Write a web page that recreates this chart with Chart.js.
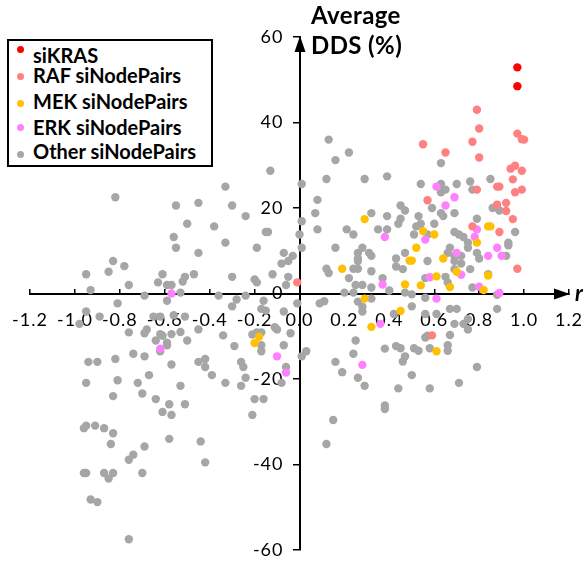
<!DOCTYPE html>
<html>
<head>
<meta charset="utf-8">
<script src="https://cdn.jsdelivr.net/npm/chart.js@4/dist/chart.umd.min.js"></script>
<style>
  html, body { margin: 0; padding: 0; background: #fff; }
  #wrap { position: relative; width: 586px; height: 565px; overflow: hidden; font-family: Lato, "Open Sans", sans-serif; }
  canvas { position: absolute; left: 0; top: 0; }
  .lg { position: absolute; left: 7px; top: 39px; width: 206px; height: 128px; border: 2px solid #000; box-sizing: border-box; background: #fff; }
  .it { position: absolute; left: 24px; font-weight: bold; font-size: 20px; line-height: 20px; white-space: nowrap; color: #000; }
  .dot { position: absolute; width: 7px; height: 7px; border-radius: 50%; }
  .ttl { position: absolute; left: 311px; top: 0px; font-weight: bold; font-size: 24px; letter-spacing: 0.4px; line-height: 30px; color: #000; white-space: nowrap; }
  .rl { position: absolute; left: 575px; top: 280px; font-weight: bold; font-style: italic; font-size: 22px; line-height: 26px; color: #000; }
</style>
</head>
<body>
<div id="wrap">
  <canvas id="c" width="586" height="565"></canvas>
  <div class="lg" id="lg"></div>
  <div class="ttl">Average<br>DDS (%)</div>
  <div class="rl">r</div>
</div>
<script>
// ---------- data (r, Average DDS %) ----------
const axisTitleY = ["Average", "DDS (%)"];
const axisTitleX = "r";
const seriesNames = ["siKRAS", "RAF siNodePairs", "MEK siNodePairs", "ERK siNodePairs", "Other siNodePairs"];
const seriesColors = ["#FF0000", "#FF8080", "#FFC000", "#FF80FF", "#A6A6A6"];
const xTicks = [-1.2, -1.0, -0.8, -0.6, -0.4, -0.2, 0.0, 0.2, 0.4, 0.6, 0.8, 1.0, 1.2];
const yTicks = [-60, -40, -20, 0, 20, 40, 60];

const krasPoints = [[0.97,52.9],[0.97,48.5]];

const rafPoints = [
  [0.79,43.0],[0.80,38.6],[0.77,35.5],[0.55,34.9],[0.65,33.0],[0.80,31.8],[0.97,37.4],[0.99,36.1],
  [1.00,36.0],[0.96,29.9],[0.94,29.2],[0.99,28.7],[0.95,26.7],[0.89,25.0],[0.88,25.0],[0.96,23.7],
  [0.99,24.3],[0.79,24.3],[0.57,21.8],[0.92,21.2],[0.88,20.8],[0.92,19.3],[0.95,17.4],[0.77,15.7],
  [0.89,14.4],[0.97,5.8],[0.59,-9.8],[-0.01,2.6]
];

const mekPoints = [
  [0.29,17.4],[0.19,5.8],[0.55,14.6],[0.60,13.8],[0.84,15.7],[0.85,15.7],[0.52,10.7],[0.79,11.9],
  [0.49,7.7],[0.50,7.7],[0.64,8.2],[0.61,4.0],[0.70,5.1],[0.84,4.2],[0.29,-1.2],[0.32,-7.8],
  [-0.20,-11.6],[-0.18,-10.1],[0.47,2.1],[0.54,1.9],[0.67,1.5],[0.45,-4.1],[0.61,-13.5],[0.82,0.8]
];

const erkPoints = [
  [0.38,13.2],[0.61,25.0],[0.69,22.5],[0.65,20.6],[0.79,15.0],[0.56,12.6],[0.78,13.2],[0.88,10.7],
  [0.90,8.8],[0.84,8.8],[0.70,9.5],[0.72,4.4],[0.58,3.8],[0.61,-1.2],[0.80,1.6],[0.89,0.1],
  [0.37,2.1],[0.36,-7.1],[-0.10,-14.7],[-0.06,-18.5],[0.28,-16.7],[-0.57,0.0],[-0.62,-12.9]
];

const otherPoints = [
  [-0.82,22.5],[-0.55,20.6],[-0.45,21.2],[-0.50,16.3],[-0.56,13.2],[-0.55,10.7],[-0.45,9.5],[-0.83,7.6],
  [-0.85,5.1],[-0.78,6.4],[-0.95,4.5],[-0.61,4.5],[-0.51,3.9],[-0.47,4.5],
  [0.22,33.0],[0.16,31.2],[0.13,36.0],[-0.13,28.7],[0.12,26.8],[0.29,26.8],[0.39,27.4],[0.01,25.6],
  [-0.33,25.0],[0.08,21.9],[-0.30,20.6],[0.07,18.8],[0.32,18.8],[0.39,18.1],[-0.24,18.1],[0.01,16.9],
  [-0.38,15.7],[0.08,15.0],[0.21,15.0],[0.24,13.8],[0.35,15.0],[0.39,15.0],[-0.15,14.4],[-0.14,14.4],
  [0.00,13.8],[-0.33,11.9],[-0.19,10.7],[0.01,10.7],[0.16,10.7],[0.28,10.7],[-0.07,9.5],[-0.03,8.8],
  [0.26,9.5],[0.31,9.5],[0.32,8.8],[0.26,8.2],[0.26,7.6],[-0.05,7.6],[-0.08,7.0],[0.12,5.8],
  [0.13,4.8],[0.24,5.8],[0.26,5.8],[0.32,5.2],[-0.12,4.5],[-0.05,3.9],[-0.30,3.9],[-0.20,3.3],
  [0.22,3.6],[0.37,3.6],
  [0.63,30.5],[0.54,25.6],[0.63,25.6],[0.70,25.6],[0.76,26.2],[0.77,24.3],[0.85,26.8],[0.63,23.7],
  [0.65,24.3],[0.45,20.6],[0.47,19.4],[0.59,20.0],[0.63,18.8],[0.64,18.1],[0.69,18.8],[0.53,18.1],
  [0.45,17.5],[0.44,16.3],[0.54,16.3],[0.52,15.7],[0.60,16.3],[0.79,17.5],[0.86,20.0],[0.89,19.4],
  [0.96,14.4],[0.69,14.4],[0.71,13.8],[0.73,13.2],[0.51,13.8],[0.57,13.8],[0.75,11.9],[0.75,10.7],
  [0.67,10.7],[0.93,11.9],[0.93,11.3],[0.47,9.5],[0.57,7.6],[0.66,9.5],[0.69,8.8],[0.72,8.8],
  [0.79,9.5],[0.80,8.2],[0.92,8.8],[0.43,8.2],[0.43,6.3],[0.46,5.7],[0.69,7.6],[0.72,7.0],
  [0.69,5.7],[0.76,5.7],[0.84,4.5],[0.56,3.6],[0.65,3.9],
  [0.40,0.7],[0.47,0.2],[0.50,-0.2],[0.56,-1.0],[0.50,-3.0],[0.42,-4.8],[0.56,-4.8],[0.61,-4.8],
  [0.67,-3.6],[0.70,-3.6],[0.69,-7.1],[0.75,-6.0],[0.73,-7.1],[0.75,-8.4],[0.88,-3.6],[0.88,-0.3],
  [0.77,1.4],[0.66,2.6],[0.56,-10.3],[0.57,-9.9],[0.67,-9.7],[0.43,-12.3],[0.45,-12.8],[0.51,-12.8],
  [0.53,-13.4],[0.58,-12.8],[0.66,-12.1],[0.66,-13.4],[0.47,-14.7],[0.46,-15.9],[0.79,-17.2],[0.50,-19.1],
  [0.71,-20.9],[0.44,-22.2],[0.58,-22.2],
  [-0.36,-0.5],[-0.24,-0.5],[-0.28,-1.4],[-0.30,-3.0],[-0.16,-1.7],[-0.17,-3.6],[-0.15,-4.0],[-0.07,-4.2],
  [-0.01,-2.3],[0.09,-2.3],[0.11,-1.8],[-0.06,2.0],[-0.19,2.6],[0.20,0.2],[0.24,0.2],[0.26,-1.9],
  [0.28,-3.1],[0.28,-4.2],[0.32,-1.2],[0.25,2.0],[0.28,2.0],[0.32,1.4],[-0.34,-9.8],[-0.21,-9.6],
  [-0.19,-9.1],[-0.17,-9.1],[-0.11,-7.9],[-0.10,-8.4],[-0.04,-9.3],[-0.29,-12.3],[-0.17,-12.1],[-0.17,-13.5],
  [-0.07,-12.1],[-0.26,-16.0],[-0.25,-17.2],[0.01,-14.7],[0.03,-13.5],[0.16,-16.0],[0.19,-18.4],[0.25,-11.0],
  [0.24,-14.1],[0.38,-12.9],[0.26,-19.7],[0.29,-21.6],[-0.06,-17.2],[-0.08,-20.9],[-0.24,-19.7],[-0.26,-21.6],
  [-0.33,-20.9],[-0.39,-19.1],[-0.20,-24.7],[-0.16,-24.7],[0.38,-26.2],
  [-0.76,2.0],[-0.93,0.8],[-0.81,-2.3],[-0.69,-0.5],[-0.63,2.6],[-0.59,2.0],[-0.57,2.0],[-0.52,2.8],
  [-0.53,0.2],[-0.59,-1.7],[-0.95,-4.2],[-0.89,-5.4],[-0.98,-7.1],[-0.65,-5.4],[-0.62,-5.4],[-0.56,-5.1],
  [-0.51,-5.4],[-0.45,-8.4],[-0.68,-8.4],[-0.69,-9.3],[-0.76,-9.1],[-0.62,-9.5],[-0.57,-9.5],[-0.53,-9.0],
  [-0.61,-9.9],[-0.64,-11.0],[-0.59,-11.5],[-0.59,-12.1],[-0.50,-11.0],[-0.62,-13.5],[-0.74,-14.1],[-0.69,-14.7],
  [-0.94,-16.0],[-0.90,-16.0],[-0.82,-15.3],[-0.57,-16.6],[-0.45,-16.0],[-0.42,-15.3],[-0.42,-17.2],[-0.95,-20.9],
  [-0.81,-20.3],[-0.72,-20.9],[-0.67,-19.1],[-0.53,-21.6],[-0.83,-24.0],[-0.70,-23.4],[-0.64,-24.7],[-0.58,-25.9],
  [-0.51,-25.9],
  [-0.61,-27.7],[-0.57,-28.4],[-0.96,-31.5],[-0.95,-30.9],[-0.91,-30.9],[-0.87,-31.5],[-0.83,-32.7],[-0.84,-35.2],
  [-0.58,-34.0],[-0.44,-34.6],[-0.69,-35.8],[-0.74,-37.7],[-0.76,-38.9],[-0.42,-39.5],[-0.96,-42.0],[-0.95,-42.0],
  [-0.87,-42.0],[-0.83,-42.0],[-0.85,-43.3],[-0.70,-42.0],[-0.93,-48.2],[-0.90,-48.8],[-0.76,-57.5],
  [-0.21,-28.4],[0.15,-29.6],[0.12,-35.2],[0.38,-27.0]
];

const groups = [krasPoints, rafPoints, mekPoints, erkPoints, otherPoints];

// ---------- legend (HTML, real text) ----------
const lg = document.getElementById('lg');
const textTops = [4, 24, 50, 76, 100];
const dotTops = [4.5, 32, 58.5, 83, 110];
seriesNames.forEach((n, i) => {
  const d = document.createElement('div');
  d.className = 'dot';
  d.style.left = '8px';
  d.style.top = dotTops[i] + 'px';
  d.style.background = seriesColors[i];
  lg.appendChild(d);
  const t = document.createElement('div');
  t.className = 'it';
  t.style.top = textTops[i] + 'px';
  t.textContent = n;
  lg.appendChild(t);
});

// ---------- text spacing + arrows on axes ----------
const spacingPlugin = {
  id: 'spacing',
  beforeDraw(chart) { chart.ctx.letterSpacing = '1px'; },
  afterDraw(chart) { chart.ctx.letterSpacing = '0px'; }
};

const arrowPlugin = {
  id: 'arrows',
  afterDraw(chart) {
    const xs = chart.scales.x, ys = chart.scales.y;
    const ctx = chart.ctx;
    const ax = Math.round(xs.getPixelForValue(0));
    const ay = Math.round(ys.getPixelForValue(0));
    const topTip = ys.getPixelForValue(yTicks[yTicks.length - 1]);
    const rightTip = xs.getPixelForValue(xTicks[xTicks.length - 1]);
    ctx.save();
    ctx.fillStyle = '#000';
    ctx.beginPath();
    ctx.moveTo(ax, topTip - 1);
    ctx.lineTo(ax - 5.5, topTip + 15);
    ctx.lineTo(ax + 5.5, topTip + 15);
    ctx.closePath();
    ctx.fill();
    ctx.beginPath();
    ctx.moveTo(rightTip + 1, ay);
    ctx.lineTo(rightTip - 15, ay - 5.5);
    ctx.lineTo(rightTip - 15, ay + 5.5);
    ctx.closePath();
    ctx.fill();
    ctx.restore();
  }
};

const noSidePadding = s => { s.paddingLeft = 0; s.paddingRight = 0; s.paddingTop = 0; s.paddingBottom = 0; };
const toData = pts => pts.map(p => ({ x: p[0], y: p[1] }));

new Chart(document.getElementById('c'), {
  type: 'scatter',
  data: {
    datasets: groups.map((g, i) => ({
      label: seriesNames[i],
      data: toData(g),
      backgroundColor: seriesColors[i],
      borderWidth: 0,
      pointRadius: 4.2,
      pointHoverRadius: 4.2
    }))
  },
  options: {
    responsive: false,
    devicePixelRatio: 1,
    animation: false,
    events: [],
    layout: { padding: { left: 30, right: 17, top: 37, bottom: 15 } },
    plugins: { legend: { display: false }, tooltip: { enabled: false } },
    scales: {
      x: {
        type: 'linear',
        position: 'center',
        min: xTicks[0],
        max: xTicks[xTicks.length - 1],
        afterBuildTicks: s => { s.ticks = xTicks.map(v => ({ value: v })); },
        afterFit: noSidePadding,
        grid: { drawOnChartArea: false, drawTicks: true, tickLength: -6, color: '#000', lineWidth: 1.5 },
        border: { display: true, color: '#000', width: 2 },
        ticks: {
          padding: 22,
          color: '#000',
          font: { family: 'Lato', size: 18 },
          maxRotation: 0,
          autoSkip: false,
          callback: v => (Math.abs(v) < 1e-9 ? 0 : v).toFixed(1)
        }
      },
      y: {
        type: 'linear',
        position: 'center',
        min: yTicks[0],
        max: yTicks[yTicks.length - 1],
        afterBuildTicks: s => { s.ticks = yTicks.map(v => ({ value: v })); },
        afterFit: noSidePadding,
        grid: { drawOnChartArea: false, drawTicks: true, tickLength: 6, color: '#000', lineWidth: 1.5 },
        border: { display: true, color: '#000', width: 2 },
        ticks: {
          padding: 10,
          color: '#000',
          font: { family: 'Lato', size: 18 },
          autoSkip: false,
          callback: v => String(Math.round(v))
        }
      }
    }
  },
  plugins: [spacingPlugin, arrowPlugin]
});
</script>
</body>
</html>
